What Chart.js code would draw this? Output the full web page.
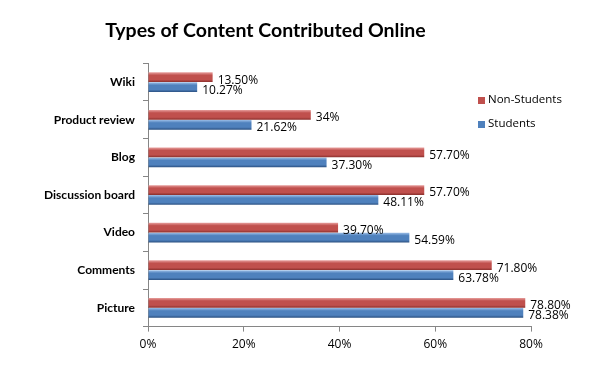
<!DOCTYPE html>
<html>
<head>
<meta charset="utf-8">
<script src="https://cdn.jsdelivr.net/npm/chart.js@4"></script>
<style>
  html, body { margin: 0; padding: 0; background: #fff; }
  #wrap { width: 594px; height: 377px; }
</style>
</head>
<body>
<div id="wrap"><canvas id="canva" width="594" height="377"></canvas></div>
<script>
var categorias = ["Wiki", "Product review", "Blog", "Discussion board", "Video", "Comments", "Picture"];
var no_estudiantes = [13.5, 34, 57.7, 57.7, 39.7, 71.8, 78.8];
var estudiantes = [10.27, 21.62, 37.30, 48.11, 54.59, 63.78, 78.38];
var etiquetas_no_est = ["13.50%", "34%", "57.70%", "57.70%", "39.70%", "71.80%", "78.80%"];
var etiquetas_est = ["10.27%", "21.62%", "37.30%", "48.11%", "54.59%", "63.78%", "78.38%"];
var ticks_x = [0, 20, 40, 60, 80];

var rojo = ["#e8a09e", "#c0504d", "#8a2f2c"];
var azul = ["#9dbfe8", "#4f81bd", "#2a4f80"];

// degradado tipo cilindro en cada barra
const cilindro = {
    id: "cilindro",
    beforeDatasetsDraw(chart) {
        const c = chart.ctx;
        chart.data.datasets.forEach(function (ds, d) {
            var cols = d == 0 ? rojo : azul;
            chart.getDatasetMeta(d).data.forEach(function (bar) {
                var top = bar.y - bar.height / 2;
                var g = c.createLinearGradient(0, top, 0, top + bar.height);
                g.addColorStop(0, cols[0]);
                g.addColorStop(0.3, cols[1]);
                g.addColorStop(0.75, cols[1]);
                g.addColorStop(1, cols[2]);
                bar.options.backgroundColor = g;
            });
        });
    }
};

// etiquetas de valores al final de cada barra
const etiquetas = {
    id: "etiquetas",
    afterDatasetsDraw(chart) {
        const c = chart.ctx;
        c.save();
        c.font = "12px 'Open Sans'";
        c.fillStyle = "#000";
        c.textBaseline = "middle";
        c.textAlign = "left";
        chart.data.datasets.forEach(function (ds, d) {
            var txt = d == 0 ? etiquetas_no_est : etiquetas_est;
            chart.getDatasetMeta(d).data.forEach(function (bar, i) {
                c.fillText(txt[i], bar.x + 5, bar.y + 3);
            });
        });
        c.restore();
    }
};

// leyenda dentro del area
const leyenda = {
    id: "leyenda",
    afterDraw(chart) {
        const c = chart.ctx;
        c.save();
        c.font = "11.5px 'Open Sans'";
        c.textBaseline = "middle";
        var x = 478, y = 100;
        chart.data.datasets.forEach(function (ds, d) {
            c.fillStyle = ds.borderColor;
            c.fillRect(x, y + d * 24 - 3, 7, 7);
            c.fillStyle = "#000";
            c.fillText(ds.label, x + 10, y + d * 24);
        });
        c.restore();
    }
};

const ctx = document.getElementById("canva");
const myChart = new Chart(ctx, {
    type: "bar",
    data: {
        labels: categorias,
        datasets: [
            {
                label: "Non-Students",
                data: no_estudiantes,
                backgroundColor: function () { return "#c0504d"; },
                borderColor: "#c0504d",
                borderWidth: 0,
                categoryPercentage: 0.53,
                barPercentage: 0.98
            },
            {
                label: "Students",
                data: estudiantes,
                backgroundColor: function () { return "#4f81bd"; },
                borderColor: "#4f81bd",
                borderWidth: 0,
                categoryPercentage: 0.53,
                barPercentage: 0.98
            }
        ]
    },
    plugins: [cilindro, etiquetas, leyenda],
    options: {
        indexAxis: "y",
        responsive: false,
        animation: false,
        layout: { padding: { left: 0, right: 63, top: 0, bottom: 19 } },
        plugins: {
            legend: { display: false },
            tooltip: { enabled: false },
            title: {
                display: true,
                text: "Types of Content Contributed Online",
                color: "#000",
                font: { family: "Lato", size: 19.5, weight: "bold" },
                padding: { top: 19, bottom: 21 }
            }
        },
        scales: {
            x: {
                min: 0,
                max: 80,
                afterBuildTicks: function (scale) {
                    scale.ticks = ticks_x.map(function (v) { return { value: v }; });
                },
                grid: { drawOnChartArea: false, tickLength: 5, color: "#868686" },
                border: { color: "#868686" },
                ticks: {
                    color: "#000",
                    padding: 6,
                    font: { family: "Open Sans", size: 12 },
                    callback: function (v) { return v + "%"; }
                }
            },
            y: {
                afterFit: function (scale) { scale.width = 148; },
                grid: { drawOnChartArea: false, offset: true, tickLength: 5, color: "#868686" },
                border: { color: "#868686" },
                ticks: {
                    color: "#000",
                    padding: 8,
                    font: { family: "Lato", size: 12, weight: "bold" }
                }
            }
        }
    }
});
</script>
</body>
</html>
